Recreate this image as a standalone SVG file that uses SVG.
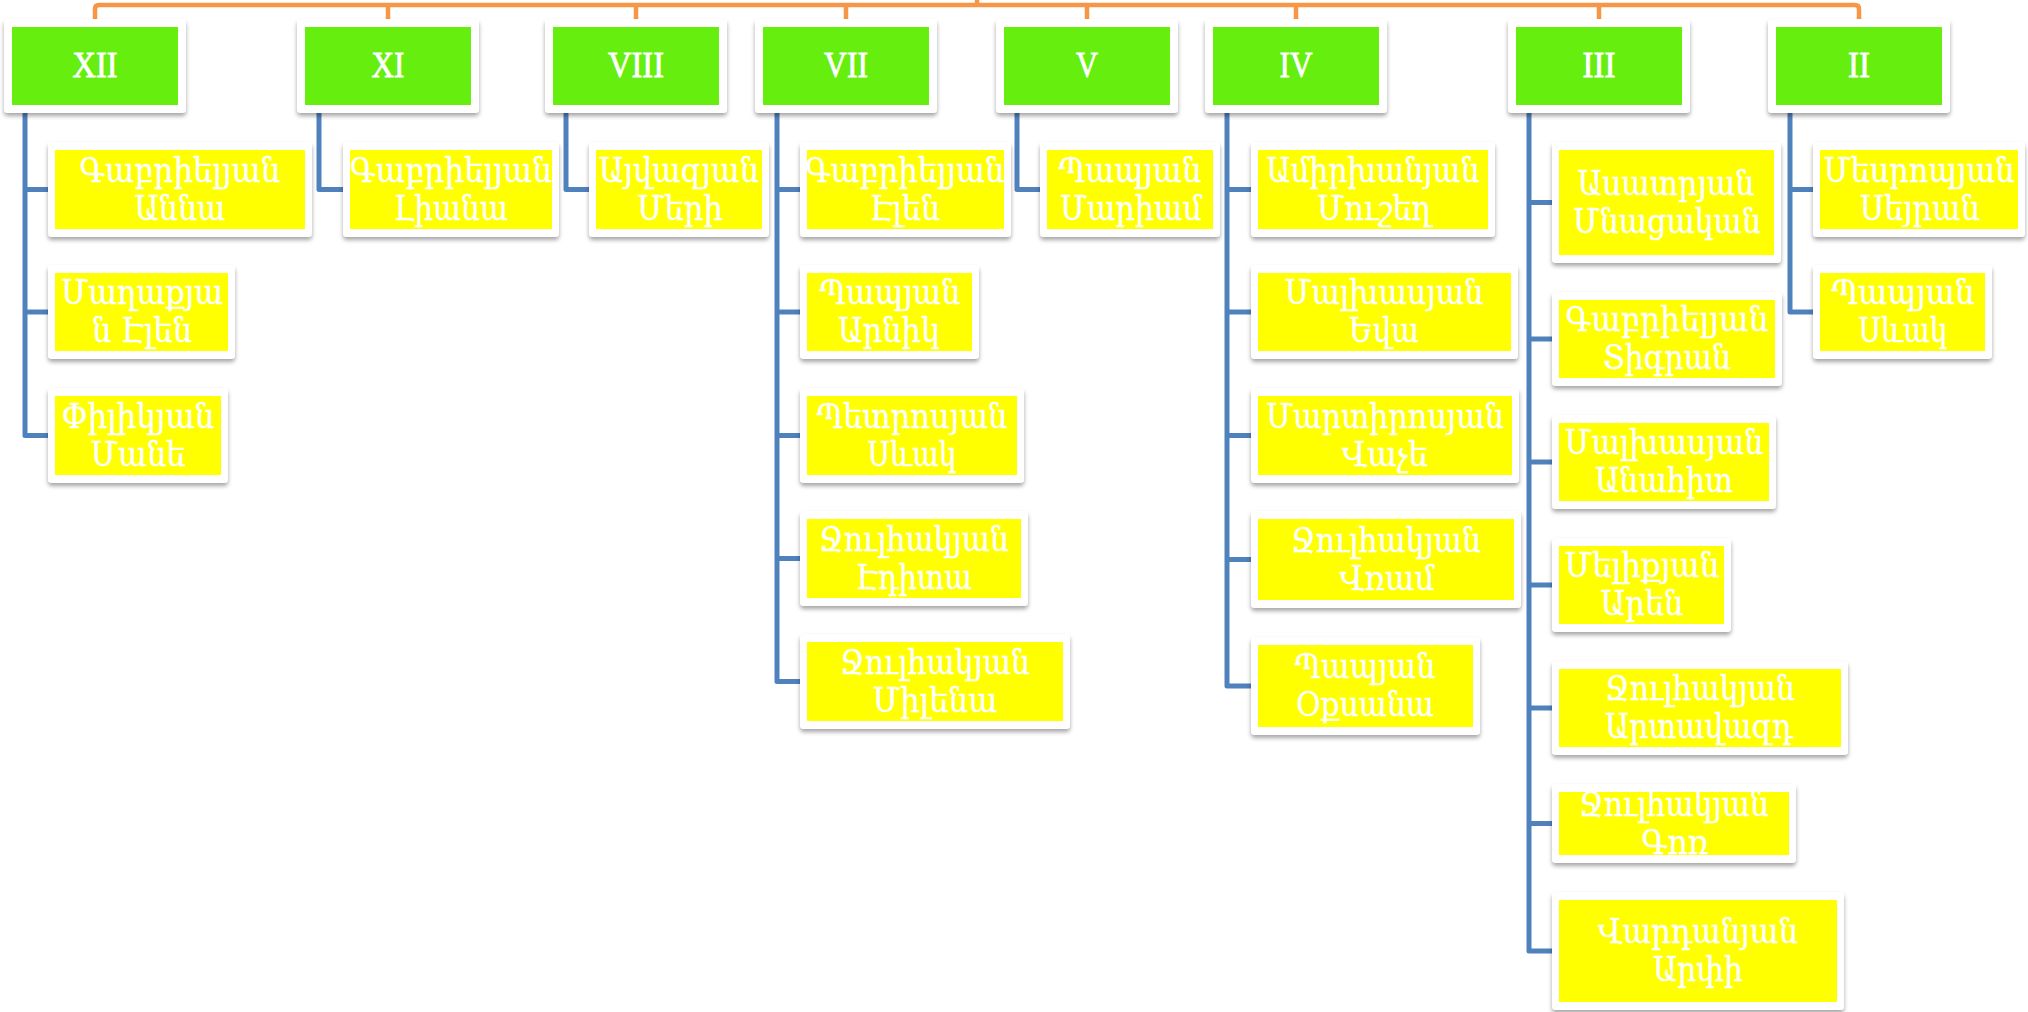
<svg xmlns="http://www.w3.org/2000/svg" width="2028" height="1012" viewBox="0 0 2028 1012">
<defs>
<filter id="sh" x="-10%" y="-10%" width="120%" height="130%">
<feDropShadow dx="0" dy="3" stdDeviation="2" flood-color="#000" flood-opacity="0.35"/>
</filter>
<style>
.fr{fill:#ffffff;filter:url(#sh)}
.hd{fill:#66EE0F}
.lf{fill:#FFFF00}
.h{font-family:"Liberation Serif","Times New Roman",serif;font-size:36px;fill:#ffffff;stroke:#ffffff;stroke-width:0.8;text-anchor:middle}
.t{font-family:"DejaVu Serif","DejaVu Sans",serif;font-size:33px;fill:#ffffff;stroke:#ffffff;stroke-width:0.4;text-anchor:middle}
.or{fill:none;stroke:#F79646;stroke-width:4.5;stroke-linejoin:round}
.bl{fill:none;stroke:#4F81BD;stroke-width:5;stroke-linejoin:round}
</style>
</defs>
<rect width="2028" height="1012" fill="#ffffff"/>
<g id="connectors">
<path class="or" d="M95,19 V9 Q95,5 99,5 H1855 Q1859,5 1859,9 V19"/>
<path class="or" d="M977,-2 V5"/>
<path class="or" d="M388,5 V19 M636,5 V19 M846,5 V19 M1087,5 V19 M1296,5 V19 M1599,5 V19"/>
<path class="bl" d="M25,110 V435.5 H50 M25,189.5 H50 M25,312 H50"/>
<path class="bl" d="M319,110 V189.5 H345"/>
<path class="bl" d="M566,110 V189.5 H591"/>
<path class="bl" d="M777,110 V681.5 H802 M777,189.5 H802 M777,312 H802 M777,435.5 H802 M777,558.5 H802"/>
<path class="bl" d="M1017,110 V189.5 H1042"/>
<path class="bl" d="M1227,110 V686 H1253 M1227,189.5 H1253 M1227,312 H1253 M1227,435.5 H1253 M1227,559.5 H1253"/>
<path class="bl" d="M1529,110 V951 H1554 M1529,202.5 H1554 M1529,339 H1554 M1529,462 H1554 M1529,585 H1554 M1529,708 H1554 M1529,823.5 H1554"/>
<path class="bl" d="M1790,110 V312 H1815 M1790,189.5 H1815"/>
</g>

<g id="n_XII"><rect class="fr" x="4" y="19" width="182" height="94" rx="4"/><rect class="hd" x="12" y="27" width="166" height="78"/><text class="h" x="95" y="77" textLength="45" lengthAdjust="spacingAndGlyphs">XII</text></g>
<g id="n_XI"><rect class="fr" x="297" y="19" width="182" height="94" rx="4"/><rect class="hd" x="305" y="27" width="166" height="78"/><text class="h" x="388" y="77" textLength="33" lengthAdjust="spacingAndGlyphs">XI</text></g>
<g id="n_VIII"><rect class="fr" x="545" y="19" width="182" height="94" rx="4"/><rect class="hd" x="553" y="27" width="166" height="78"/><text class="h" x="636" y="77" textLength="56" lengthAdjust="spacingAndGlyphs">VIII</text></g>
<g id="n_VII"><rect class="fr" x="755" y="19" width="182" height="94" rx="4"/><rect class="hd" x="763" y="27" width="166" height="78"/><text class="h" x="846" y="77" textLength="44" lengthAdjust="spacingAndGlyphs">VII</text></g>
<g id="n_V"><rect class="fr" x="996" y="19" width="182" height="94" rx="4"/><rect class="hd" x="1004" y="27" width="166" height="78"/><text class="h" x="1087" y="77" textLength="22" lengthAdjust="spacingAndGlyphs">V</text></g>
<g id="n_IV"><rect class="fr" x="1205" y="19" width="182" height="94" rx="4"/><rect class="hd" x="1213" y="27" width="166" height="78"/><text class="h" x="1296" y="77" textLength="33" lengthAdjust="spacingAndGlyphs">IV</text></g>
<g id="n_III"><rect class="fr" x="1508" y="19" width="182" height="94" rx="4"/><rect class="hd" x="1516" y="27" width="166" height="78"/><text class="h" x="1599" y="77" textLength="33" lengthAdjust="spacingAndGlyphs">III</text></g>
<g id="n_II"><rect class="fr" x="1768" y="19" width="182" height="94" rx="4"/><rect class="hd" x="1776" y="27" width="166" height="78"/><text class="h" x="1859" y="77" textLength="22" lengthAdjust="spacingAndGlyphs">II</text></g>

<g id="xii_1"><rect class="fr" x="48" y="142" width="264" height="95" rx="4"/><rect class="lf" x="55" y="150" width="250" height="79"/><text class="t" x="180" y="181.5" textLength="201" lengthAdjust="spacingAndGlyphs">Գաբրիելյան</text><text class="t" x="180" y="219.5" textLength="91" lengthAdjust="spacingAndGlyphs">Աննա</text></g>
<g id="xii_2"><rect class="fr" x="48" y="265" width="187" height="94" rx="4"/><rect class="lf" x="55" y="273" width="173" height="78"/><text class="t" x="142" y="304" textLength="162" lengthAdjust="spacingAndGlyphs">Մաղաքյա</text><text class="t" x="142" y="342" textLength="100" lengthAdjust="spacingAndGlyphs">ն Էլեն</text></g>
<g id="xii_3"><rect class="fr" x="48" y="388" width="180" height="95" rx="4"/><rect class="lf" x="55" y="396" width="166" height="79"/><text class="t" x="138" y="427.5" textLength="153" lengthAdjust="spacingAndGlyphs">Փիլիկյան</text><text class="t" x="138" y="465.5" textLength="95" lengthAdjust="spacingAndGlyphs">Մանե</text></g>

<g id="xi_1"><rect class="fr" x="343" y="142" width="216" height="95" rx="4"/><rect class="lf" x="350" y="150" width="202" height="79"/><text class="t" x="451" y="181.5" textLength="202" lengthAdjust="spacingAndGlyphs">Գաբրիելյան</text><text class="t" x="451" y="219.5" textLength="114" lengthAdjust="spacingAndGlyphs">Լիանա</text></g>

<g id="viii_1"><rect class="fr" x="589" y="142" width="180" height="95" rx="4"/><rect class="lf" x="596" y="150" width="166" height="79"/><text class="t" x="679" y="181.5" textLength="160" lengthAdjust="spacingAndGlyphs">Այվազյան</text><text class="t" x="680" y="219.5" textLength="86" lengthAdjust="spacingAndGlyphs">Մերի</text></g>

<g id="vii_1"><rect class="fr" x="800" y="142" width="211" height="95" rx="4"/><rect class="lf" x="807" y="150" width="197" height="79"/><text class="t" x="905" y="181.5" textLength="199" lengthAdjust="spacingAndGlyphs">Գաբրիելյան</text><text class="t" x="905" y="219.5" textLength="70" lengthAdjust="spacingAndGlyphs">Էլեն</text></g>
<g id="vii_2"><rect class="fr" x="800" y="265" width="179" height="94" rx="4"/><rect class="lf" x="807" y="273" width="165" height="78"/><text class="t" x="890" y="304" textLength="141" lengthAdjust="spacingAndGlyphs">Պապյան</text><text class="t" x="889" y="342" textLength="102" lengthAdjust="spacingAndGlyphs">Արնիկ</text></g>
<g id="vii_3"><rect class="fr" x="800" y="388" width="224" height="95" rx="4"/><rect class="lf" x="807" y="396" width="210" height="79"/><text class="t" x="912" y="427.5" textLength="191" lengthAdjust="spacingAndGlyphs">Պետրոսյան</text><text class="t" x="912" y="465.5" textLength="89" lengthAdjust="spacingAndGlyphs">Սևակ</text></g>
<g id="vii_4"><rect class="fr" x="800" y="511" width="228" height="95" rx="4"/><rect class="lf" x="807" y="519" width="214" height="79"/><text class="t" x="914" y="550.5" textLength="190" lengthAdjust="spacingAndGlyphs">Ջուլհակյան</text><text class="t" x="914" y="588.5" textLength="116" lengthAdjust="spacingAndGlyphs">Էդիտա</text></g>
<g id="vii_5"><rect class="fr" x="800" y="634" width="270" height="95" rx="4"/><rect class="lf" x="807" y="642" width="256" height="79"/><text class="t" x="935" y="673.5" textLength="190" lengthAdjust="spacingAndGlyphs">Ջուլհակյան</text><text class="t" x="935" y="711.5" textLength="125" lengthAdjust="spacingAndGlyphs">Միլենա</text></g>

<g id="v_1"><rect class="fr" x="1040" y="142" width="180" height="95" rx="4"/><rect class="lf" x="1047" y="150" width="166" height="79"/><text class="t" x="1130" y="181.5" textLength="143" lengthAdjust="spacingAndGlyphs">Պապյան</text><text class="t" x="1131" y="219.5" textLength="142" lengthAdjust="spacingAndGlyphs">Մարիամ</text></g>

<g id="iv_1"><rect class="fr" x="1251" y="142" width="244" height="95" rx="4"/><rect class="lf" x="1258" y="150" width="230" height="79"/><text class="t" x="1373" y="181.5" textLength="213" lengthAdjust="spacingAndGlyphs">Ամիրխանյան</text><text class="t" x="1374" y="219.5" textLength="114" lengthAdjust="spacingAndGlyphs">Մուշեղ</text></g>
<g id="iv_2"><rect class="fr" x="1251" y="265" width="267" height="94" rx="4"/><rect class="lf" x="1258" y="273" width="253" height="78"/><text class="t" x="1384" y="304" textLength="199" lengthAdjust="spacingAndGlyphs">Մալխասյան</text><text class="t" x="1384" y="342" textLength="70" lengthAdjust="spacingAndGlyphs">Եվա</text></g>
<g id="iv_3"><rect class="fr" x="1251" y="388" width="268" height="95" rx="4"/><rect class="lf" x="1258" y="396" width="254" height="79"/><text class="t" x="1385" y="427.5" textLength="238" lengthAdjust="spacingAndGlyphs">Մարտիրոսյան</text><text class="t" x="1385" y="465.5" textLength="86" lengthAdjust="spacingAndGlyphs">Վաչե</text></g>
<g id="iv_4"><rect class="fr" x="1251" y="511" width="270" height="97" rx="4"/><rect class="lf" x="1258" y="519" width="256" height="81"/><text class="t" x="1386" y="551.5" textLength="190" lengthAdjust="spacingAndGlyphs">Ջուլհակյան</text><text class="t" x="1387" y="589.5" textLength="95" lengthAdjust="spacingAndGlyphs">Վռամ</text></g>
<g id="iv_5"><rect class="fr" x="1251" y="637" width="229" height="98" rx="4"/><rect class="lf" x="1258" y="645" width="215" height="82"/><text class="t" x="1365" y="678" textLength="141" lengthAdjust="spacingAndGlyphs">Պապյան</text><text class="t" x="1365" y="716" textLength="138" lengthAdjust="spacingAndGlyphs">Օքսանա</text></g>

<g id="iii_1"><rect class="fr" x="1552" y="142" width="229" height="121" rx="4"/><rect class="lf" x="1559" y="150" width="215" height="105"/><text class="t" x="1666" y="194.5" textLength="177" lengthAdjust="spacingAndGlyphs">Ասատրյան</text><text class="t" x="1667" y="232.5" textLength="188" lengthAdjust="spacingAndGlyphs">Մնացական</text></g>
<g id="iii_2"><rect class="fr" x="1552" y="292" width="230" height="94" rx="4"/><rect class="lf" x="1559" y="300" width="216" height="78"/><text class="t" x="1667" y="331" textLength="203" lengthAdjust="spacingAndGlyphs">Գաբրիելյան</text><text class="t" x="1667" y="369" textLength="128" lengthAdjust="spacingAndGlyphs">Տիգրան</text></g>
<g id="iii_3"><rect class="fr" x="1552" y="415" width="224" height="94" rx="4"/><rect class="lf" x="1559" y="423" width="210" height="78"/><text class="t" x="1664" y="454" textLength="199" lengthAdjust="spacingAndGlyphs">Մալխասյան</text><text class="t" x="1664" y="492" textLength="138" lengthAdjust="spacingAndGlyphs">Անահիտ</text></g>
<g id="iii_4"><rect class="fr" x="1552" y="538" width="179" height="94" rx="4"/><rect class="lf" x="1559" y="546" width="165" height="78"/><text class="t" x="1642" y="577" textLength="155" lengthAdjust="spacingAndGlyphs">Մելիքյան</text><text class="t" x="1642" y="615" textLength="83" lengthAdjust="spacingAndGlyphs">Արեն</text></g>
<g id="iii_5"><rect class="fr" x="1552" y="661" width="296" height="94" rx="4"/><rect class="lf" x="1559" y="669" width="282" height="78"/><text class="t" x="1700" y="700" textLength="190" lengthAdjust="spacingAndGlyphs">Ջուլհակյան</text><text class="t" x="1699" y="738" textLength="188" lengthAdjust="spacingAndGlyphs">Արտավազդ</text></g>
<g id="iii_6"><rect class="fr" x="1552" y="784" width="244" height="79" rx="4"/><rect class="lf" x="1559" y="792" width="230" height="63"/><text class="t" x="1674" y="815.5" textLength="190" lengthAdjust="spacingAndGlyphs">Ջուլհակյան</text><text class="t" x="1675" y="853.5" textLength="67" lengthAdjust="spacingAndGlyphs">Գոռ</text></g>
<g id="iii_7"><rect class="fr" x="1552" y="892" width="292" height="118" rx="4"/><rect class="lf" x="1559" y="900" width="278" height="102"/><text class="t" x="1698" y="943" textLength="200" lengthAdjust="spacingAndGlyphs">Վարդանյան</text><text class="t" x="1698" y="981" textLength="90" lengthAdjust="spacingAndGlyphs">Արփի</text></g>

<g id="ii_1"><rect class="fr" x="1813" y="142" width="212" height="95" rx="4"/><rect class="lf" x="1820" y="150" width="198" height="79"/><text class="t" x="1919" y="181.5" textLength="191" lengthAdjust="spacingAndGlyphs">Մեսրոպյան</text><text class="t" x="1920" y="219.5" textLength="120" lengthAdjust="spacingAndGlyphs">Սեյրան</text></g>
<g id="ii_2"><rect class="fr" x="1813" y="265" width="179" height="94" rx="4"/><rect class="lf" x="1820" y="273" width="165" height="78"/><text class="t" x="1903" y="304" textLength="143" lengthAdjust="spacingAndGlyphs">Պապյան</text><text class="t" x="1903" y="342" textLength="89" lengthAdjust="spacingAndGlyphs">Սևակ</text></g>
</svg>
